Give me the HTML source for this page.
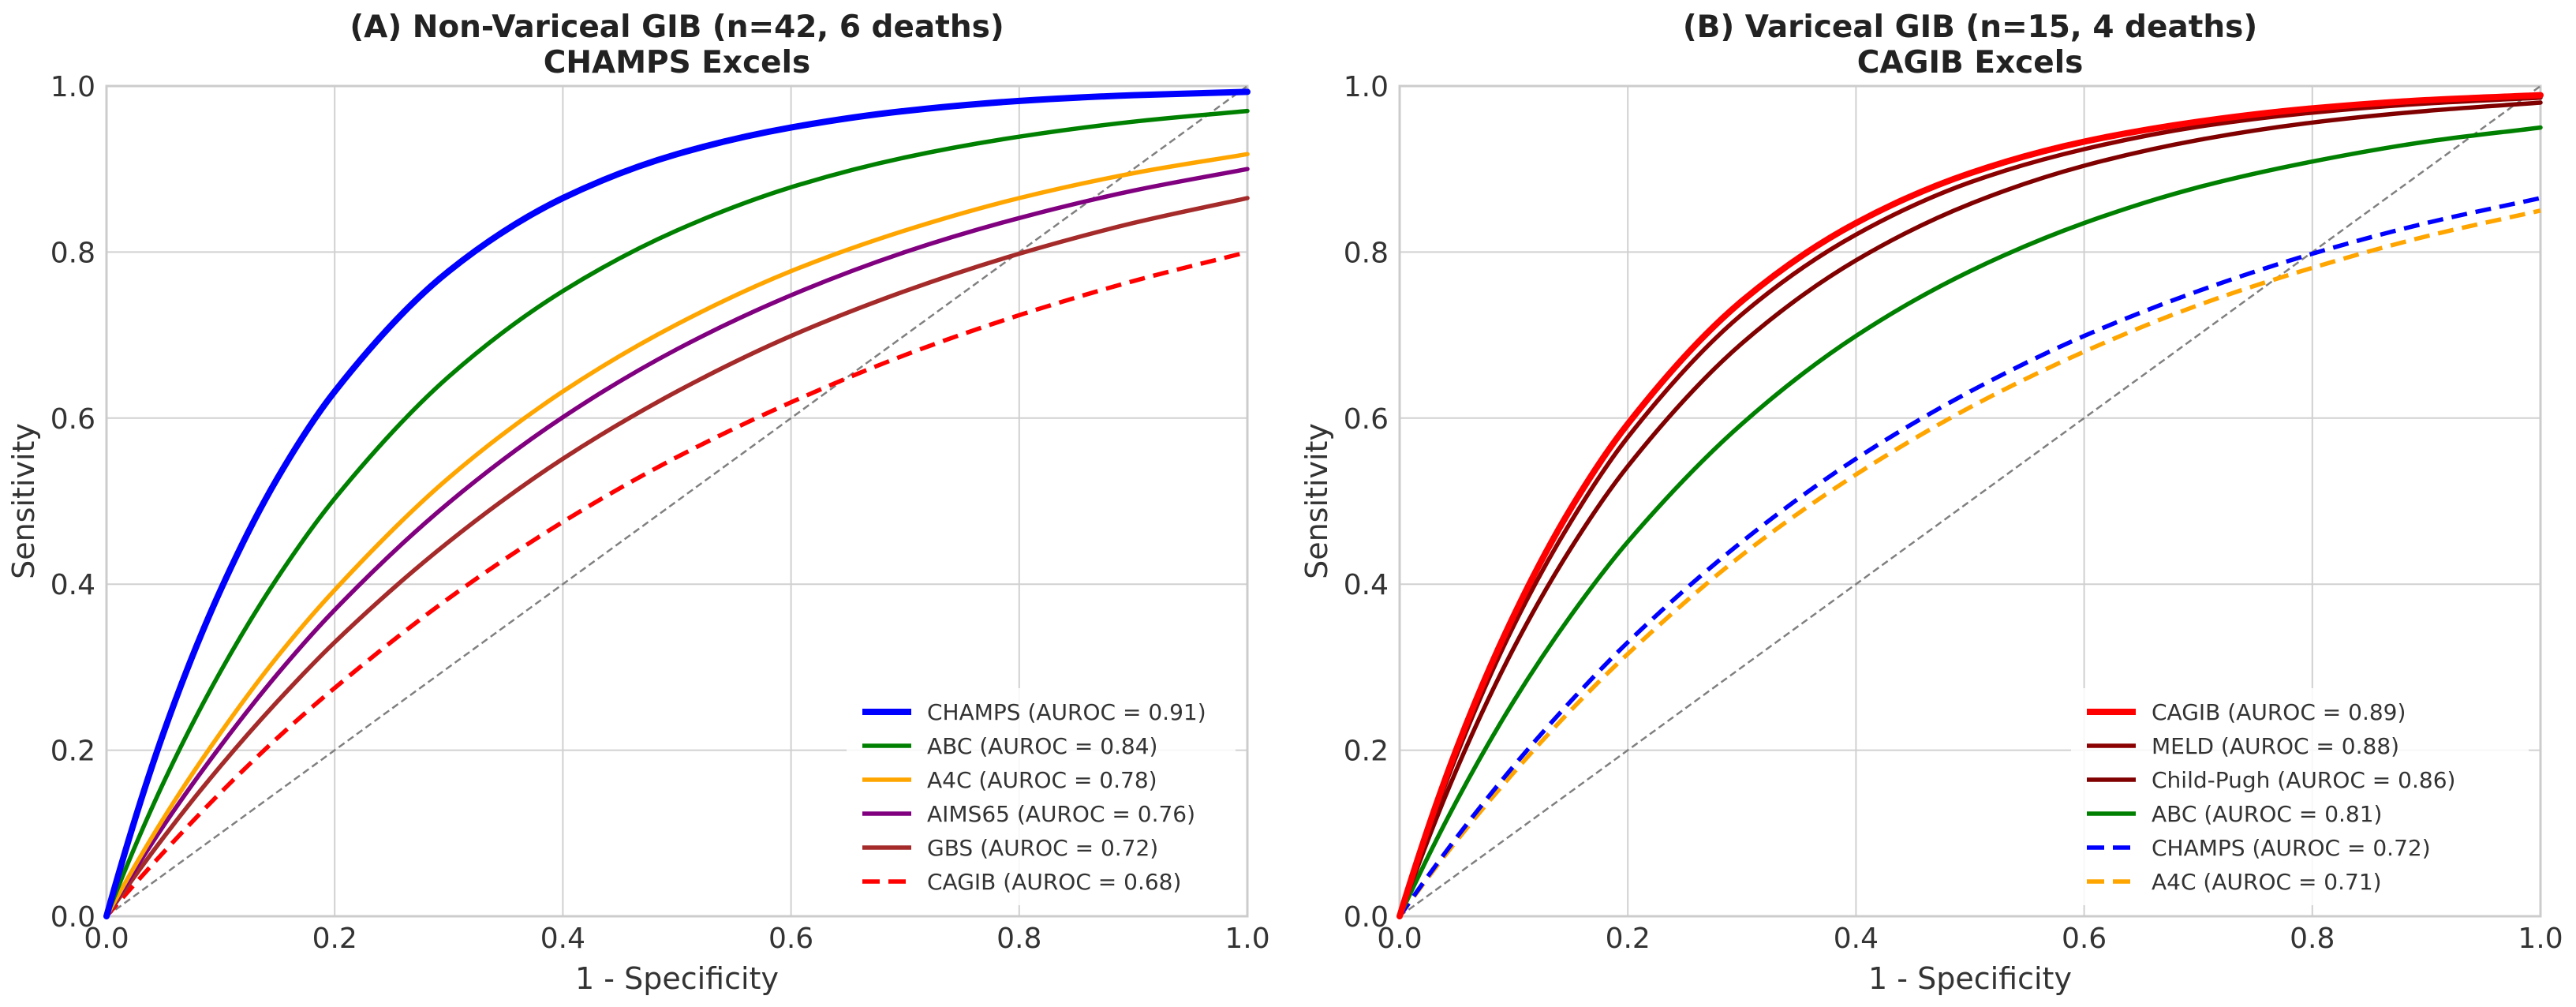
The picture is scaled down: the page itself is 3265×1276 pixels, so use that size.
<!DOCTYPE html>
<html><head><meta charset="utf-8"><style>
html,body{margin:0;padding:0;background:#fff}
svg{display:block;font-family:"DejaVu Sans","Liberation Sans",sans-serif}
</style></head><body>
<svg id="chart" width="3265" height="1276" viewBox="0 0 3265 1276" xmlns="http://www.w3.org/2000/svg"></svg>
<script>
const fprPoints = [0,0.05,0.1,0.15,0.2,0.3,0.4,0.5,0.6,0.7,0.8,0.9,1.0];
const tickLabels = ["0.0","0.2","0.4","0.6","0.8","1.0"];
const tickValues = [0,0.2,0.4,0.6,0.8,1.0];
const panelATitle = ["(A) Non-Variceal GIB (n=42, 6 deaths)","CHAMPS Excels"];
const panelBTitle = ["(B) Variceal GIB (n=15, 4 deaths)","CAGIB Excels"];
const panelANames = ["CHAMPS","ABC","A4C","AIMS65","GBS","CAGIB"];
const panelAAuroc = ["0.91","0.84","0.78","0.76","0.72","0.68"];
const panelAChamps = [0,0.221,0.393,0.528,0.632,0.777,0.865,0.918,0.950,0.970,0.982,0.989,0.993];
const panelAAbc = [0,0.161,0.295,0.408,0.503,0.650,0.753,0.826,0.878,0.914,0.939,0.957,0.970];
const panelAA4c = [0,0.118,0.221,0.313,0.393,0.528,0.632,0.713,0.777,0.826,0.865,0.895,0.918];
const panelAAims = [0,0.109,0.205,0.292,0.369,0.498,0.601,0.683,0.748,0.800,0.841,0.874,0.900];
const panelAGbs = [0,0.095,0.181,0.259,0.330,0.451,0.551,0.632,0.699,0.753,0.798,0.835,0.865];
const panelACagib = [0,0.077,0.149,0.215,0.275,0.383,0.475,0.553,0.619,0.676,0.724,0.765,0.800];
const panelBNames = ["CAGIB","MELD","Child-Pugh","ABC","CHAMPS","A4C"];
const panelBAuroc = ["0.89","0.88","0.86","0.81","0.72","0.71"];
const panelBCagib = [0,0.202,0.362,0.491,0.593,0.741,0.835,0.895,0.933,0.957,0.973,0.983,0.989];
const panelBMeld = [0,0.194,0.350,0.475,0.577,0.725,0.821,0.884,0.924,0.951,0.968,0.979,0.986];
const panelBChild = [0,0.177,0.323,0.443,0.542,0.690,0.790,0.858,0.904,0.935,0.956,0.970,0.980];
const panelBAbc = [0,0.139,0.259,0.362,0.451,0.593,0.699,0.777,0.835,0.878,0.909,0.933,0.950];
const panelBChamps = [0,0.095,0.181,0.259,0.330,0.451,0.551,0.632,0.699,0.753,0.798,0.835,0.865];
const panelBA4c = [0,0.091,0.173,0.248,0.316,0.435,0.532,0.613,0.680,0.736,0.781,0.819,0.850];

const NS="http://www.w3.org/2000/svg";
const svg=document.getElementById('chart');
function mk(tag,attrs,parent){const e=document.createElementNS(NS,tag);for(const k in attrs)e.setAttribute(k,attrs[k]);(parent||svg).appendChild(e);return e;}

const styleA=[{c:"#0000ff",w:8,d:null},{c:"#008000",w:5.5,d:null},{c:"#ffa500",w:5.5,d:null},{c:"#800080",w:5.5,d:null},{c:"#a52a2a",w:5.5,d:null},{c:"#ff0000",w:5.5,d:"20,11"}];
const styleB=[{c:"#ff0000",w:8,d:null},{c:"#8b0000",w:5.5,d:null},{c:"#800000",w:5.5,d:null},{c:"#008000",w:5.5,d:null},{c:"#0000ff",w:5.5,d:"20,11"},{c:"#ffa500",w:5.5,d:"20,11"}];

function smoothPath(pts){
  const n=pts.length, dx=[], m=[], t=[];
  for(let i=0;i<n-1;i++){dx.push(pts[i+1][0]-pts[i][0]);m.push((pts[i+1][1]-pts[i][1])/dx[i]);}
  t[0]=m[0]+(m[0]-m[1])*dx[0]/(dx[0]+dx[1]);t[n-1]=m[n-2];
  for(let i=1;i<n-1;i++){
    if(m[i-1]*m[i]<=0)t[i]=0;
    else{const w1=2*dx[i]+dx[i-1],w2=dx[i]+2*dx[i-1];t[i]=(w1+w2)/(w1/m[i-1]+w2/m[i]);}
  }
  let d="M"+pts[0][0].toFixed(1)+","+pts[0][1].toFixed(1);
  for(let i=0;i<n-1;i++){
    const h=dx[i]/3;
    d+=" C"+(pts[i][0]+h).toFixed(1)+","+(pts[i][1]+t[i]*h).toFixed(1)+" "+(pts[i+1][0]-h).toFixed(1)+","+(pts[i+1][1]-t[i+1]*h).toFixed(1)+" "+pts[i+1][0].toFixed(1)+","+pts[i+1][1].toFixed(1);
  }
  return d;
}

function panel(id,x0,titles,names,aurocs,series,styles,legX){
  const x1=x0+1446,yTop=109,yBot=1161;
  const sx=v=>x0+v*(x1-x0), sy=v=>yBot-v*(yBot-yTop);
  const g=mk('g',{});
  
  
  tickValues.forEach((v,i)=>{
    const gx=mk('line',{x1:sx(v),x2:sx(v),y1:yTop,y2:yBot,stroke:"#d0d0d0","stroke-width":2},g);
    
    
    const gy=mk('line',{x1:x0,x2:x1,y1:sy(v),y2:sy(v),stroke:"#d0d0d0","stroke-width":2},g);
    
    
    const tx=mk('text',{x:sx(v),y:sy(0)+40,"font-size":36,"text-anchor":"middle",fill:"#333"},g);
    tx.textContent=tickLabels[i];
    
    
    const ty=mk('text',{x:x0-14,y:sy(v)+13,"font-size":36,"text-anchor":"end",fill:"#333"},g);
    ty.textContent=tickLabels[i];
    
    
  });
  const fr=mk('rect',{x:x0,y:yTop,width:x1-x0,height:yBot-yTop,fill:"none",stroke:"#cccccc","stroke-width":3},g);
  
  
  const diag=mk('line',{x1:sx(0),y1:sy(0),x2:sx(1),y2:sy(1),stroke:"#808080","stroke-width":2.5,"stroke-dasharray":"9,5"},g);
  
  
  for(let s=series.length-1;s>=0;s--){
    const pts=fprPoints.map((f,i)=>[sx(f),sy(series[s][i])]);
    const st=styles[s];
    const p=mk('path',{d:smoothPath(pts),fill:"none",stroke:st.c,"stroke-width":st.w,"stroke-linecap":st.d?"butt":"round"},g);
    if(st.d)p.setAttribute('stroke-dasharray',st.d);
    
    
  }
  const cx=(x0+x1)/2;
  const t1=mk('text',{x:cx,y:47,"font-size":39,"font-weight":"bold","text-anchor":"middle",fill:"#222"},g);
  t1.textContent=titles[0];
  
  
  const t2=mk('text',{x:cx,y:92,"font-size":39,"font-weight":"bold","text-anchor":"middle",fill:"#222"},g);
  t2.textContent=titles[1];
  
  
  const xl=mk('text',{x:cx,y:1253,"font-size":38,"text-anchor":"middle",fill:"#333"},g);
  xl.textContent="1 - Specificity";
  
  
  const yl=mk('text',{x:0,y:0,"font-size":38,"text-anchor":"middle",fill:"#333",transform:"translate("+(x0-92)+","+((yTop+yBot)/2)+") rotate(-90)"},g);
  yl.textContent="Sensitivity";
  
  
  const lg=mk('g',{},g);
  
  
  const lb=mk('rect',{x:legX-20,y:872,width:x1-legX+5,height:275,fill:"#fff","fill-opacity":0.85},lg);
  
  
  names.forEach((n,i)=>{
    const y=902+i*43,st=styles[i];
    const ln=mk('line',{x1:legX,x2:legX+62,y1:y,y2:y,stroke:st.c,"stroke-width":st.w},lg);
    if(st.d)ln.setAttribute('stroke-dasharray',"22,11");
    
    
    const tx=mk('text',{x:legX+82,y:y+10,"font-size":28,fill:"#333"},lg);
    tx.textContent=n+" (AUROC = "+aurocs[i]+")";
    
    
  });
}
panel('panel-a',135,panelATitle,panelANames,panelAAuroc,[panelAChamps,panelAAbc,panelAA4c,panelAAims,panelAGbs,panelACagib],styleA,1093);
panel('panel-b',1774,panelBTitle,panelBNames,panelBAuroc,[panelBCagib,panelBMeld,panelBChild,panelBAbc,panelBChamps,panelBA4c],styleB,2645);
</script>
</body></html>
